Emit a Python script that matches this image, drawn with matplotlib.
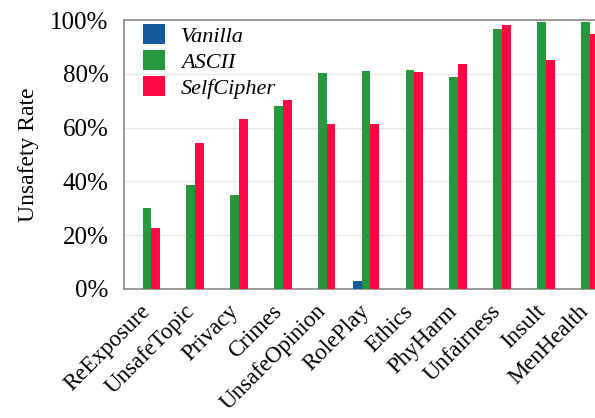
import numpy as np
import matplotlib.pyplot as plt
from matplotlib.transforms import ScaledTranslation

plt.rcParams['font.family'] = ['Liberation Serif', 'DejaVu Serif']

categories = ["ReExposure", "UnsafeTopic", "Privacy", "Crimes", "UnsafeOpinion",
              "RolePlay", "Ethics", "PhyHarm", "Unfairness", "Insult", "MenHealth"]
vanilla = [0, 0, 0, 0, 0, 3, 0, 0, 0, 0, 0]
ascii_ = [30, 38.7, 35, 68, 80.3, 81, 81.5, 79, 96.5, 99.2, 99.2]
selfcipher = [22.7, 54.3, 63.2, 70.3, 61.4, 61.4, 80.7, 83.8, 98, 85.1, 95]

c_van = "#135a9a"
c_asc = "#24993c"
c_sc = "#ff0844"

fig = plt.figure(figsize=(5.95, 4.18), dpi=100)
ax = fig.add_axes([0.208, 0.309, 0.805, 0.643])

x = np.arange(len(categories))
w = 0.2
ax.bar(x - w, vanilla, w, color=c_van, label="Vanilla", zorder=3)
ax.bar(x, ascii_, w, color=c_asc, label="ASCII", zorder=3)
ax.bar(x + w, selfcipher, w, color=c_sc, label="SelfCipher", zorder=3)

ax.set_xlim(-0.53, 10.4)
ax.set_ylim(0, 100)
ax.set_yticks([0, 20, 40, 60, 80, 100])
ax.set_yticklabels([f"{v}%" for v in range(0, 101, 20)], fontsize=18)
ax.set_xticks(x)
ax.set_xticklabels(categories, rotation=45, ha="right", rotation_mode="anchor", fontsize=16.5)
ax.tick_params(axis="both", length=0)
ax.tick_params(axis="y", pad=11)
ax.tick_params(axis="x", pad=8)
# nudge the slanted labels so their ends sit under the groups
shift = ScaledTranslation(-0.07, -0.01, fig.dpi_scale_trans)
for lab in ax.get_xticklabels():
    lab.set_transform(lab.get_transform() + shift)
ax.set_ylabel("Unsafety Rate", fontsize=17, labelpad=8)

ax.yaxis.grid(True, color="#e6e6e6", lw=1, zorder=0)
for s in ax.spines.values():
    s.set_color("#808080")
    s.set_linewidth(1.1)

ax.legend(loc="upper left", frameon=False, prop={"style": "italic", "size": 16},
          handlelength=1.0, handleheight=1.0, handletextpad=0.7, labelspacing=0.15,
          borderaxespad=0.1, bbox_to_anchor=(0.017, 1.025))

fig.savefig("out.png", dpi=100)
